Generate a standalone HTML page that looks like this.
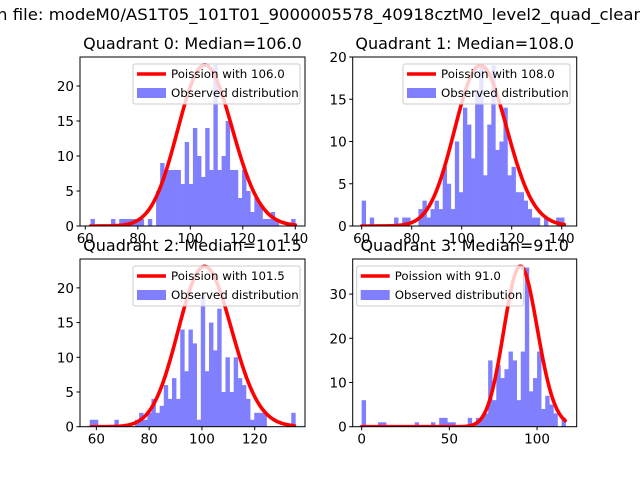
<!DOCTYPE html>
<html><head><meta charset="utf-8"><style>
html,body{margin:0;padding:0;background:#fff;width:640px;height:480px;overflow:hidden}
svg{display:block;font-family:"DejaVu Sans","Liberation Sans",sans-serif}
</style></head><body>
<svg id="fig" width="640" height="480" viewBox="0 0 640 480">
<rect width="640" height="480" fill="#fff"/>
<text x="-3" y="20" font-size="16" textLength="647" lengthAdjust="spacingAndGlyphs" fill="#000">n file: modeM0/AS1T05_101T01_9000005578_40918cztM0_level2_quad_clean</text>
</svg>
<script>
// ---- data ----
const q0Counts=[1,0,0,0,0,1,0,1,1,1, 1,1,1,0,1,0,5,9,8,8, 8,8,6,12,6,14,10,7,14,8, 23,8,10,15,8,8,4,8,5,2, 4,3,1,1,2,1,0,0,0,1];
const q1Counts=[3,0,1,0,0,0,0,0,1,0, 1,1,0,0,2,3,1,2,3,2, 7,5,2,10,4,14,12,8,16,19, 6,12,19,9,10,14,6,7,4,4, 3,2,1,1,0,1,0,0,1,1];
const q2Counts=[1,1,0,0,0,0,1,0,0,0, 0,1,2,1,2,4,2,3,6,4, 7,4,14,8,14,12,1,19,8,15, 11,17,5,10,5,10,7,6,4,1, 2,2,2,0,0,0,0,0,0,2];
const q3Counts=[6,0,0,0,1,1,0,0,0,0, 0,0,0,1,0,0,0,1,0,2, 2,1,1,0,0,0,2,0,2,2, 3,15,6,14,11,13,17,15,6,17, 36,8,11,17,4,7,5,3,0,2];
const binMin=[62,60,57.5,0];
const binMax=[140,141,135.4,116.3];
const poissonMu=[106.0,108.0,101.5,91.0];
const poissonPeak=[23,19,23,36.3];
const q0XTicks=[60,80,100,120,140], q0YTicks=[0,5,10,15,20];
const q1XTicks=[60,80,100,120,140], q1YTicks=[0,5,10,15,20];
const q2XTicks=[60,80,100,120], q2YTicks=[0,5,10,15,20];
const q3XTicks=[0,50,100], q3YTicks=[0,10,20,30];
const titles=["Quadrant 0: Median=106.0","Quadrant 1: Median=108.0","Quadrant 2: Median=101.5","Quadrant 3: Median=91.0"];
const legendLabels=["Poission with 106.0","Poission with 108.0","Poission with 101.5","Poission with 91.0"];

// ---- layout ----
const NS="http://www.w3.org/2000/svg";
const svg=document.getElementById('fig');
const axesBox=[
 {l:80,r:305,t:57,b:226,xmin:57.98,xmax:143.7,ymax:24.14,leg:133},
 {l:352.7,r:576.7,t:57,b:226,xmin:56.4,xmax:146,ymax:20,leg:403},
 {l:80,r:305,t:259,b:426.7,xmin:53.8,xmax:139.05,ymax:24.16,leg:133},
 {l:352.7,r:576.7,t:259,b:426.7,xmin:-5.1,xmax:122.6,ymax:37.94,leg:356.7}
];
const counts=[q0Counts,q1Counts,q2Counts,q3Counts];
const xt=[q0XTicks,q1XTicks,q2XTicks,q3XTicks], yt=[q0YTicks,q1YTicks,q2YTicks,q3YTicks];
function mk(tag,attrs,parent){const e=document.createElementNS(NS,tag);for(const k in attrs)e.setAttribute(k,attrs[k]);(parent||svg).appendChild(e);return e;}
function lgam(n){ if(n<2)return 0; return n*Math.log(n)-n+0.5*Math.log(2*Math.PI*n)+1/(12*n)-1/(360*n*n*n);}
function logpmf(k,mu){return k*Math.log(mu)-mu-lgam(k);}

for(let q=0;q<4;q++){
 const A=axesBox[q];
 const X=v=>A.l+(v-A.xmin)/(A.xmax-A.xmin)*(A.r-A.l);
 const Y=v=>A.b-v/A.ymax*(A.b-A.t);
 const g=mk('g',{});
 
 
 const clipId='clip'+q;
 const cp=mk('clipPath',{id:clipId},g);
 mk('rect',{x:A.l,y:A.t,width:A.r-A.l,height:A.b-A.t},cp);
 const c=counts[q], n=c.length, w=(binMax[q]-binMin[q])/n;
 for(let i=0;i<n;i++){
  if(c[i]<=0)continue;
  const x0=X(binMin[q]+i*w), x1=X(binMin[q]+(i+1)*w);
  const r=mk('rect',{x:x0,y:Y(c[i]),width:x1-x0+0.3,height:Y(0)-Y(c[i]),fill:'#8080ff'},g);
  
  
 }
 const mu=poissonMu[q], ref=logpmf(Math.round(mu),mu);
 let d='';
 for(let k=Math.ceil(binMin[q]);k<=Math.floor(binMax[q]);k++){
  const v=poissonPeak[q]*Math.exp(logpmf(k,mu)-ref);
  d+=(d?'L':'M')+X(k).toFixed(2)+','+Y(v).toFixed(2);
 }
 const p=mk('path',{d:d,fill:'none',stroke:'#ff0000','stroke-width':3.6,'stroke-linejoin':'round','stroke-linecap':'round','clip-path':'url(#'+clipId+')'},g);
 
 
 const fr=mk('rect',{x:A.l,y:A.t,width:A.r-A.l,height:A.b-A.t,fill:'none',stroke:'#000','stroke-width':1},g);
 
 
 xt[q].forEach(v=>{
  const x=X(v);
  mk('line',{x1:x,x2:x,y1:A.b,y2:A.b+3.5,stroke:'#000'},g);
  const t=mk('text',{x:x,y:A.b+17,'font-size':13.5,'text-anchor':'middle',fill:'#000'},g);
  t.textContent=v;
  
  
 });
 yt[q].forEach(v=>{
  const y=Y(v);
  mk('line',{x1:A.l-3.5,x2:A.l,y1:y,y2:y,stroke:'#000'},g);
  const t=mk('text',{x:A.l-6,y:y+5,'font-size':13.5,'text-anchor':'end',fill:'#000'},g);
  t.textContent=v;
  
  
 });
 const tt=mk('text',{x:(A.l+A.r)/2,y:A.t-8,'font-size':16,'text-anchor':'middle',fill:'#000'},g);
 tt.textContent=titles[q];
 
 
 const L=A.leg, T=A.t+7;
 const lg=mk('g',{},g);
 
 
 mk('rect',{x:L,y:T,width:167,height:40,rx:2,fill:'#fff','fill-opacity':0.8,stroke:'#cccccc','stroke-width':1},lg);
 mk('line',{x1:L+4,x2:L+33,y1:T+10,y2:T+10,stroke:'#ff0000','stroke-width':3.6},lg);
 const t1=mk('text',{x:L+38,y:T+14,'font-size':11.8,fill:'#000'},lg);
 t1.textContent=legendLabels[q];
 
 
 mk('rect',{x:L+4,y:T+24,width:29,height:10,fill:'#8080ff'},lg);
 const t2=mk('text',{x:L+38,y:T+33,'font-size':11.8,fill:'#000'},lg);
 t2.textContent='Observed distribution';
 
 
}
</script>
</body></html>
